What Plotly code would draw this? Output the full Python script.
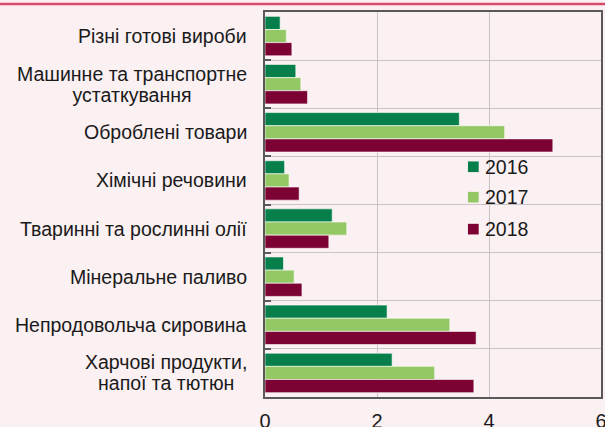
import plotly.graph_objects as go

# Commodity groups, listed top to bottom
categories = [
    "Різні готові вироби",
    "Машинне та транспортне<br>устаткування",
    "Оброблені товари",
    "Хімічні речовини",
    "Тваринні та рослинні олії",
    "Мінеральне паливо",
    "Непродовольча сировина",
    "Харчові продукти,<br>напої та тютюн",
]

years = ["2016", "2017", "2018"]
values_2016 = [0.27, 0.55, 3.47, 0.35, 1.20, 0.33, 2.18, 2.27]
values_2017 = [0.38, 0.64, 4.28, 0.43, 1.46, 0.52, 3.30, 3.03]
values_2018 = [0.48, 0.76, 5.14, 0.61, 1.14, 0.66, 3.77, 3.73]
series = [values_2016, values_2017, values_2018]
colors = ["#067F4A", "#94C864", "#7B0232"]

x_ticks = [0, 2, 4, 6]

BG = "#FBF0F2"
FONT = "Liberation Sans, Arial, sans-serif"
TXT = "#1a1a1a"

W, H, BOTTOM = 605, 427, 30
PAPER_H = H - BOTTOM  # drawable height above the bottom margin

fig = go.Figure()
for year, vals, col in zip(years, series, colors):
    fig.add_trace(go.Bar(
        y=categories, x=vals, name=year, orientation="h",
        marker=dict(color=col, line=dict(color="rgba(255,255,255,0.6)", width=1)),
        showlegend=False,
    ))

# Red rule along the top edge of the figure
rule_y = 1 - 4 / PAPER_H
fig.add_shape(type="line", xref="paper", yref="paper", x0=0, x1=1, y0=rule_y, y1=rule_y,
              line=dict(color="#D64D6C", width=2.5))

# Category labels: lines centred on each other, block right-aligned to the axis.
# Base font size sets the (tight) line pitch, the span sets the glyph size.
for cat in categories:
    fig.add_annotation(
        xref="x domain", yref="y", x=0, y=cat,
        text='<span style="font-size:19.5px">' + cat.replace("<br>", '</span><br><span style="font-size:19.5px">') + "</span>",
        showarrow=False, xanchor="right", yanchor="middle", align="center", xshift=-16,
        font=dict(family=FONT, size=16, color=TXT),
    )

# Legend keys drawn inside the plot area
legend_y = [0.598, 0.519, 0.436]
for year, col, ly in zip(years, colors, legend_y):
    fig.add_shape(type="rect", xref="x domain", yref="y domain",
                  x0=0.604, x1=0.636, y0=ly - 0.0138, y1=ly + 0.0138,
                  fillcolor=col, line=dict(width=0))
    fig.add_annotation(xref="x domain", yref="y domain", x=0.648, y=ly, text=year,
                       showarrow=False, xanchor="left", yanchor="middle",
                       font=dict(family=FONT, size=19.5, color=TXT))

fig.update_layout(
    width=W, height=H,
    margin=dict(l=0, r=0, t=0, b=BOTTOM, autoexpand=False),
    paper_bgcolor=BG, plot_bgcolor=BG,
    barmode="group", bargap=0.18, bargroupgap=0,
    font=dict(family=FONT, size=20, color=TXT),
    showlegend=False,
    xaxis=dict(
        domain=[265 / W, 601 / W],
        range=[0, 6], tickvals=x_ticks, showgrid=True, gridcolor="#C9C4C6", gridwidth=1,
        zeroline=False, showline=True, linecolor="#595959", linewidth=2, mirror=True,
        ticks="", tickfont=dict(size=20, color=TXT), ticklabelstandoff=5,
        ticklabeloverflow="allow", automargin=False,
    ),
    yaxis=dict(
        domain=[0, 1 - 12 / PAPER_H],
        type="category", autorange="reversed", tickson="boundaries",
        showgrid=True, gridcolor="#C9C4C6", gridwidth=1,
        showline=True, linecolor="#595959", linewidth=2, mirror=True,
        ticks="inside", ticklen=6, tickcolor="#595959", tickwidth=2,
        showticklabels=False, automargin=False,
    ),
)

fig.write_html("out.html")
